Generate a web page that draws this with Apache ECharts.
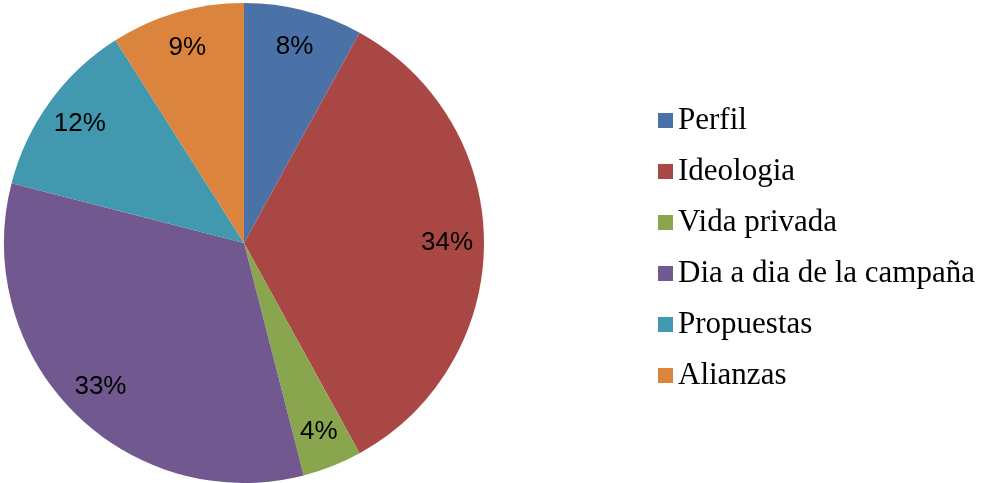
<!DOCTYPE html>
<html>
<head>
<meta charset="utf-8">
<script src="https://cdn.jsdelivr.net/npm/echarts@6/dist/echarts.min.js"></script>
<style>
html, body { margin: 0; padding: 0; background: #fff; }
#main { width: 984px; height: 483px; }
</style>
</head>
<body>
<div id="main"></div>
<script>
// categorias y valores (%)
var categories = ["Perfil", "Ideologia", "Vida privada", "Dia a dia de la campaña", "Propuestas", "Alianzas"];
var values = [8, 34, 4, 33, 12, 9];
var colors = ["#4A72A6", "#A94744", "#89A64E", "#71588F", "#4198AF", "#DB843D"];

var chart = echarts.init(document.getElementById("main"));

var pieData = categories.map(function (c, i) {
	return { name: c, value: values[i], itemStyle: { color: colors[i] } };
});

var option = {
	animation: false,
	legend: {
		orient: "vertical",
		left: 653,
		top: 100,
		itemWidth: 15,
		itemHeight: 15,
		itemGap: 20,
		icon: "rect",
		data: categories,
		textStyle: {
			fontFamily: "Liberation Serif",
			fontSize: 31,
			lineHeight: 31,
			color: "#000",
			padding: [0, 0, 0, 0]
		}
	},
	series: [
		{
			// sectores
			type: "pie",
			center: [244, 243],
			radius: [0, 240],
			startAngle: 90,
			silent: true,
			label: { show: false },
			labelLine: { show: false },
			itemStyle: { borderWidth: 0 },
			data: pieData
		},
		{
			// etiquetas: anillo invisible para colocar el texto a r=200
			type: "pie",
			center: [244, 243],
			radius: [160, 240],
			startAngle: 90,
			silent: true,
			legendHoverLink: false,
			itemStyle: { color: "rgba(0,0,0,0)", borderWidth: 0 },
			label: {
				show: true,
				position: "inside",
				formatter: "{c}%",
				fontFamily: "Liberation Sans",
				fontSize: 26,
				color: "#000"
			},
			labelLine: { show: false },
			data: categories.map(function (c, i) { return { name: c + " ", value: values[i] }; })
		}
	]
};

chart.setOption(option);
</script>
</body>
</html>
